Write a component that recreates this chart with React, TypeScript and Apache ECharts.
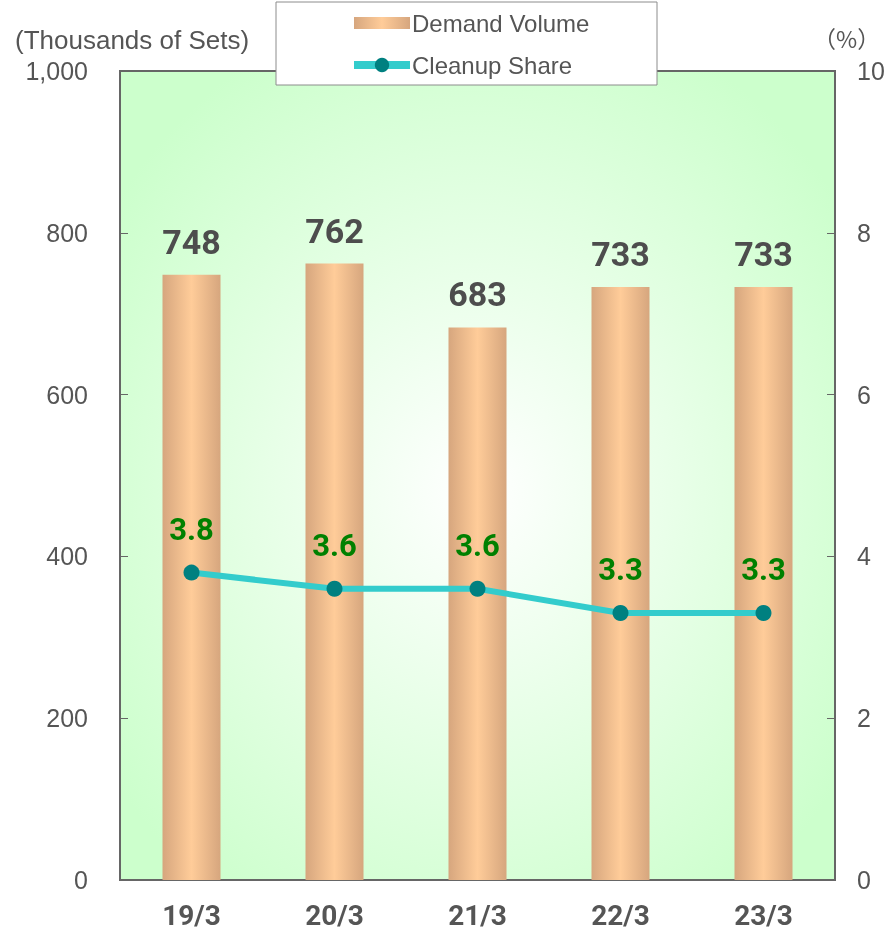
import React, { useEffect, useRef } from "react";
import * as echarts from "echarts";

const categories = ["19/3", "20/3", "21/3", "22/3", "23/3"];
const demandVolume = [748, 762, 683, 733, 733];
const cleanupShare = [3.8, 3.6, 3.6, 3.3, 3.3];
const seriesNames = ["Demand Volume", "Cleanup Share"];
const leftAxisTitle = "(Thousands of Sets)";
const rightAxisTitle = "（%）";

export default function App() {
  const ref = useRef<HTMLDivElement>(null);
  useEffect(() => {
    if (!ref.current) return;
    const chart = echarts.init(ref.current, null, { renderer: "svg" });
    const axisColor = "#666666";
    const textColor = "#555555";
    const barGradient = new echarts.graphic.LinearGradient(0, 0, 1, 0, [
      { offset: 0, color: "#d6a67e" },
      { offset: 0.5, color: "#ffcc99" },
      { offset: 1, color: "#d6a67e" },
    ]);
    chart.setOption({
      animation: false,
      grid: {
        left: 120,
        right: 60,
        top: 71,
        bottom: 56,
        show: true,
        backgroundColor: new echarts.graphic.RadialGradient(0.5, 0.52, 0.62, [
          { offset: 0, color: "#ffffff" },
          { offset: 1, color: "#ccffcc" },
        ]),
        borderColor: axisColor,
        borderWidth: 2,
      },
      graphic: [
        {
          type: "rect",
          z: 3,
          shape: { x: 276, y: 2, width: 381, height: 83 },
          style: { fill: "#ffffff", stroke: "#8c8c8c", lineWidth: 1 },
        },
        {
          type: "text",
          left: 15,
          top: 27,
          style: {
            text: leftAxisTitle,
            fontSize: 26,
            fontFamily: "Liberation Sans",
            fill: textColor,
          },
        },
        {
          type: "text",
          left: 813,
          top: 26,
          style: {
            text: rightAxisTitle,
            fontSize: 23,
            fontFamily: "Noto Sans CJK JP",
            fill: textColor,
          },
        },
      ],
      legend: {
        orient: "vertical",
        left: 345,
        top: 6,
        z: 5,
        itemWidth: 56,
        itemHeight: 18,
        itemGap: 18,
        lineStyle: { width: 8 },
        data: [
          { name: seriesNames[0], icon: "path://M0,0h56v12h-56z" },
          { name: seriesNames[1] },
        ],
        textStyle: { fontSize: 24, fontFamily: "Liberation Sans", color: textColor, padding: [0, 0, 0, -3] },
      },
      xAxis: {
        type: "category",
        data: categories,
        axisLine: { lineStyle: { color: axisColor, width: 2 } },
        axisTick: { inside: true, length: 8, lineStyle: { color: axisColor } },
        axisLabel: {
          fontSize: 28,
          fontWeight: "bold",
          fontFamily: "Roboto",
          color: textColor,
          margin: 21,
        },
      },
      yAxis: [
        {
          type: "value",
          min: 0,
          max: 1000,
          interval: 200,
          splitLine: { show: false },
          axisLine: { show: true, lineStyle: { color: axisColor, width: 2 } },
          axisTick: { show: true, inside: true, length: 8, lineStyle: { color: axisColor } },
          axisLabel: {
            fontSize: 25,
            fontFamily: "Liberation Sans",
            color: textColor,
            margin: 32,
            formatter: (v: number) => v.toLocaleString("en-US"),
          },
        },
        {
          type: "value",
          min: 0,
          max: 10,
          interval: 2,
          splitLine: { show: false },
          axisLine: { show: true, lineStyle: { color: axisColor, width: 2 } },
          axisTick: { show: true, inside: true, length: 8, lineStyle: { color: axisColor } },
          axisLabel: {
            fontSize: 25,
            fontFamily: "Liberation Sans",
            color: textColor,
            margin: 22,
          },
        },
      ],
      series: [
        {
          name: seriesNames[0],
          type: "bar",
          data: demandVolume,
          barWidth: 58,
          itemStyle: { color: barGradient },
          label: {
            show: true,
            position: "top",
            distance: 16,
            fontSize: 34,
            fontWeight: "bold",
            fontFamily: "Roboto",
            color: "#4d4d4d",
          },
        },
        {
          name: seriesNames[1],
          type: "line",
          yAxisIndex: 1,
          data: cleanupShare,
          symbol: "circle",
          symbolSize: 16,
          itemStyle: { color: "#008080" },
          lineStyle: { color: "#33cccc", width: 6 },
          label: {
            show: true,
            position: "top",
            distance: 20,
            fontSize: 31,
            fontWeight: "bold",
            fontFamily: "Roboto",
            color: "#008000",
            formatter: (p: any) => p.value.toFixed(1),
          },
        },
      ],
    });
    return () => chart.dispose();
  }, []);
  return (
    <div
      ref={ref}
      style={{ position: "fixed", left: 0, top: 0, width: 895, height: 936 }}
    />
  );
}
